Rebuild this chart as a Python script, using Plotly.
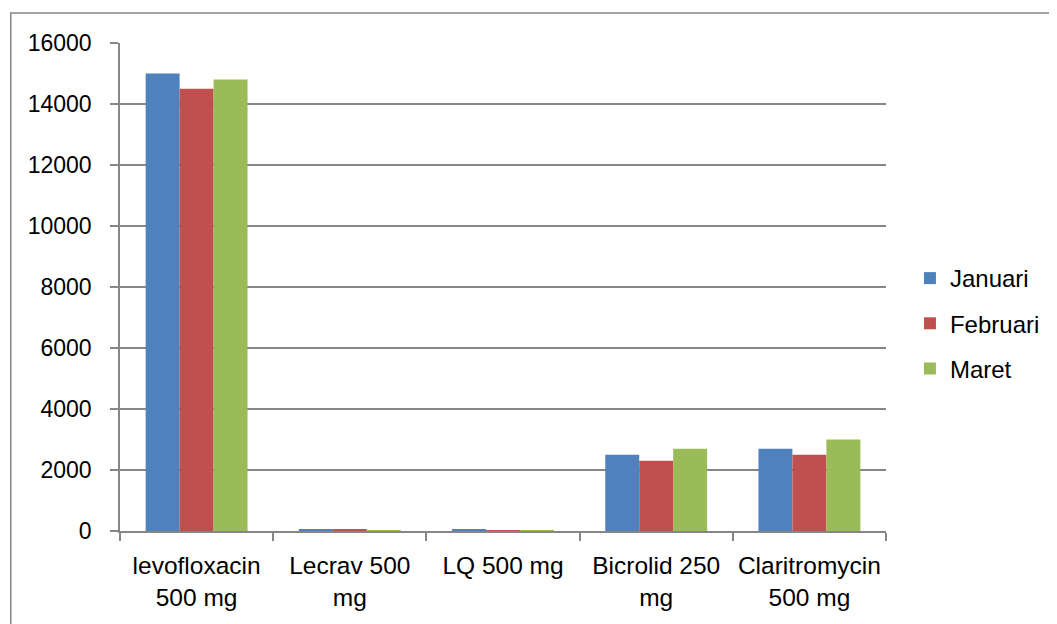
import plotly.graph_objects as go

categories = ["levofloxacin<br>500 mg", "Lecrav 500<br>mg", "LQ 500 mg", "Bicrolid 250<br>mg", "Claritromycin<br>500 mg"]
januari = [15000, 35, 60, 2500, 2700]
februari = [14500, 35, 30, 2300, 2500]
maret = [14800, 30, 30, 2700, 3000]
series_names = ["Januari", "Februari", "Maret"]
colors = ["#4F81BD", "#C0504D", "#9BBB59"]

FONT = "Liberation Sans"
OFF = 8  # page body margin
W, H = 1057 - OFF, 624 - OFF
L, R, T, B = 120 - OFF, 888 - OFF, 43 - OFF, 531 - OFF

fig = go.Figure()
for i, (name, vals) in enumerate(zip(series_names, [januari, februari, maret])):
    fig.add_trace(go.Bar(
        x=categories, y=vals, name=name,
        marker=dict(color=colors[i], line=dict(width=0)),
        legendgroup=name,
    ))

pw, ph = R - L, B - T
def px(x):
    return (x - OFF - L) / pw
def py(y):
    return (B - (y - OFF)) / ph

fig.update_layout(
    width=W, height=H,
    margin=dict(l=L, r=W - R, t=T, b=H - B, pad=0),
    paper_bgcolor="white", plot_bgcolor="white",
    font=dict(family=FONT, size=23, color="#000000"),
    barmode="group", bargap=0.335, bargroupgap=0,
    showlegend=True,
    legend=dict(x=px(912), y=py(256), xanchor="left", yanchor="top",
                font=dict(size=24), traceorder="grouped", tracegroupgap=11,
                itemwidth=30, bgcolor="rgba(0,0,0,0)"),
    xaxis=dict(showgrid=False, showline=True, linecolor="#868686", linewidth=1.5,
               ticks="outside", tickson="boundaries", ticklen=8, tickcolor="#868686",
               tickwidth=1.5, tickfont=dict(size=24.5), ticklabelstandoff=12,
               fixedrange=True),
    yaxis=dict(range=[0, 16000], dtick=2000, showgrid=True, gridcolor="#868686",
               gridwidth=1.5, showline=True, linecolor="#868686", linewidth=1.5,
               ticks="outside", ticklen=8, tickcolor="#868686", tickwidth=1.5,
               tickfont=dict(size=23), ticklabelstandoff=14, zeroline=False,
               tickformat="d", fixedrange=True),
    shapes=[dict(type="rect", xref="paper", yref="paper",
                 x0=px(10.5), y0=py(624 + 20), x1=px(1057 + 20), y1=py(13),
                 line=dict(color="#868686", width=1.5), fillcolor="rgba(0,0,0,0)",
                 layer="below")],
)

fig.write_html("out.html")
